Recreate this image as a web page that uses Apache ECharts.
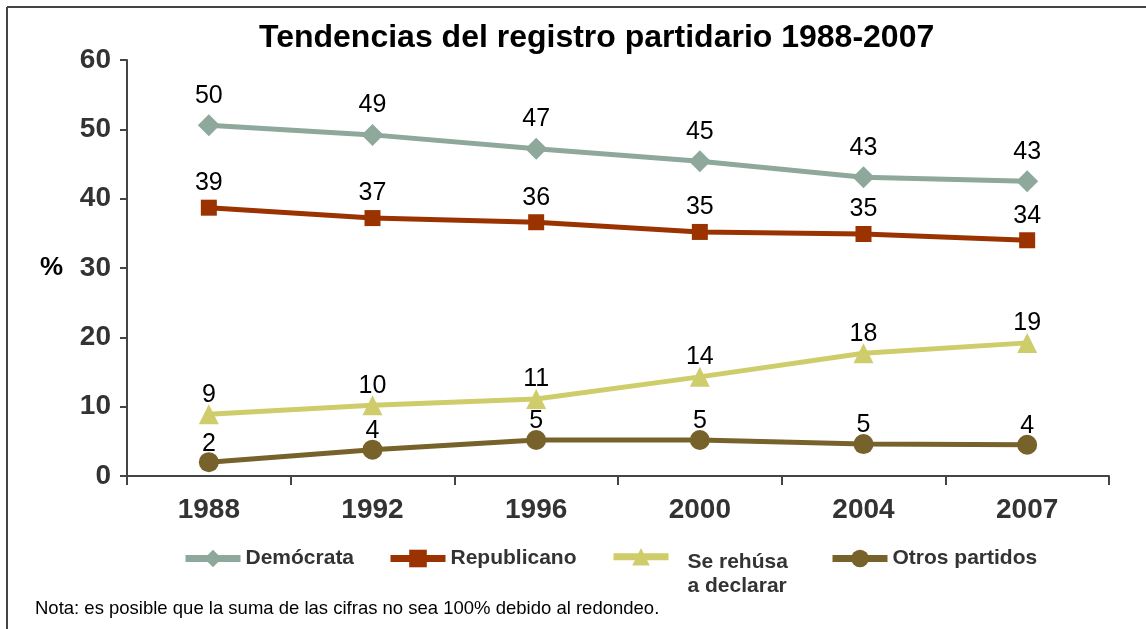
<!DOCTYPE html>
<html>
<head>
<meta charset="utf-8">
<script src="https://cdn.jsdelivr.net/npm/echarts@6/dist/echarts.min.js"></script>
<style>
html,body{margin:0;padding:0;background:#fff;}
#c{width:1146px;height:629px;}
</style>
</head>
<body>
<div id="c"></div>
<script>
const years = ['1988','1992','1996','2000','2004','2007'];
const democrata = [50.6, 49.2, 47.2, 45.4, 43.1, 42.5];
const democrataLabels = ['50','49','47','45','43','43'];
const republicano = [38.7, 37.2, 36.6, 35.2, 34.9, 34.0];
const republicanoLabels = ['39','37','36','35','35','34'];
const rehusa = [8.9, 10.2, 11.1, 14.3, 17.7, 19.2];
const rehusaLabels = ['9','10','11','14','18','19'];
const otros = [2.0, 3.8, 5.2, 5.2, 4.6, 4.5];
const otrosLabels = ['2','4','5','5','5','4'];
const yTicks = [0, 10, 20, 30, 40, 50, 60];

const FONT = 'Liberation Sans, Arial, sans-serif';
const chart = echarts.init(document.getElementById('c'));

function mkSeries(name, data, labels, color, symbol, size, dist) {
  return {
    name: name, type: 'line', data: data,
    symbol: symbol, symbolSize: size,
    lineStyle: {color: color, width: 5},
    itemStyle: {color: color},
    label: {
      show: true, position: 'top', distance: dist,
      color: '#000', fontSize: 25, fontFamily: FONT,
      formatter: p => labels[p.dataIndex]
    },
    z: 3
  };
}

function mkLegend(name, left, top, extra) {
  return Object.assign({
    data: [name], left: left, top: top, orient: 'horizontal',
    itemWidth: 55, itemHeight: 22, padding: 0,
    selectedMode: false,
    lineStyle: {width: 7},
    textStyle: {color: '#333', fontSize: 21, fontWeight: 'bold', fontFamily: FONT}
  }, extra || {});
}

chart.setOption({
  backgroundColor: '#fff',
  animation: false,
  title: {
    text: 'Tendencias del registro partidario 1988-2007',
    left: 254, top: 17,
    textStyle: {color: '#000', fontSize: 32, fontWeight: 'bold', fontFamily: FONT}
  },
  grid: {left: 127, right: 37, top: 60, bottom: 153},
  xAxis: {
    type: 'category', data: years, boundaryGap: true,
    axisLine: {lineStyle: {color: '#444', width: 2}},
    axisTick: {show: true, length: 9, lineStyle: {color: '#444', width: 2}},
    axisLabel: {color: '#333', fontSize: 28, fontWeight: 'bold', fontFamily: FONT, margin: 20}
  },
  yAxis: {
    type: 'value', min: yTicks[0], max: yTicks[yTicks.length - 1], interval: 10,
    axisLine: {show: true, lineStyle: {color: '#444', width: 2}},
    axisTick: {show: true, length: 7, lineStyle: {color: '#444', width: 2}},
    splitLine: {show: false},
    axisLabel: {color: '#333', fontSize: 28, fontWeight: 'bold', fontFamily: FONT, margin: 16}
  },
  legend: [
    mkLegend('Demócrata', 182, 548),
    mkLegend('Republicano', 387, 548),
    mkLegend('Se rehúsa\na declarar', 610, 548, {
      formatter: () => '{a|Se rehúsa}\n{a|a declarar}',
      textStyle: {color: '#333', fontSize: 21, fontWeight: 'bold', fontFamily: FONT,
        padding: [34, 0, 0, 14],
        rich: {a: {color: '#333', fontSize: 21, fontWeight: 'bold', fontFamily: FONT, lineHeight: 24}}}
    }),
    mkLegend('Otros partidos', 829, 548)
  ],
  series: [
    mkSeries('Demócrata', democrata, democrataLabels, '#8EA89B', 'diamond', 22, 6),
    mkSeries('Republicano', republicano, republicanoLabels, '#9B3300', 'rect', 16, 4),
    mkSeries('Se rehúsa\na declarar', rehusa, rehusaLabels, '#CFCD6B', 'triangle', 20, -3),
    mkSeries('Otros partidos', otros, otrosLabels, '#76622A', 'circle', 20, -4)
  ],
  graphic: [
    {type: 'line', shape: {x1: 7, y1: 7, x2: 1146, y2: 7}, style: {stroke: '#444', lineWidth: 2}},
    {type: 'line', shape: {x1: 7, y1: 7, x2: 7, y2: 629}, style: {stroke: '#444', lineWidth: 2}},
    {type: 'text', left: 40, top: 255, style: {text: '%', fill: '#000', font: 'bold 26px ' + FONT}},
    {type: 'text', left: 35, top: 599, style: {text: 'Nota: es posible que la suma de las cifras no sea 100% debido al redondeo.', fill: '#000', font: '18.5px ' + FONT}}
  ]
});
</script>
</body>
</html>
